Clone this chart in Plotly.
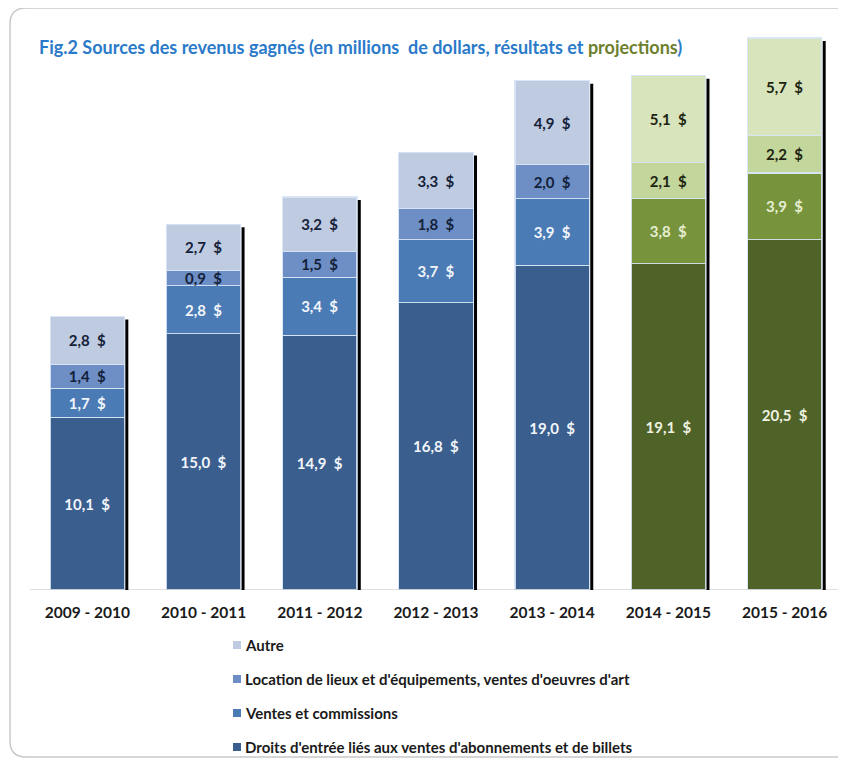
import plotly.graph_objects as go

# ---------------- data ----------------
categories = ["2009 - 2010", "2010 - 2011", "2011 - 2012", "2012 - 2013",
              "2013 - 2014", "2014 - 2015", "2015 - 2016"]
is_projection = [False, False, False, False, False, True, True]

droits = [10.1, 15.0, 14.9, 16.8, 19.0, 19.1, 20.5]
ventes = [1.7, 2.8, 3.4, 3.7, 3.9, 3.8, 3.9]
location = [1.4, 0.9, 1.5, 1.8, 2.0, 2.1, 2.2]
autre = [2.8, 2.7, 3.2, 3.3, 4.9, 5.1, 5.7]

series_names = [
    "Droits d'entrée liés aux ventes d'abonnements et de billets",
    "Ventes et commissions",
    "Location de lieux et d'équipements, ventes d'oeuvres d'art",
    "Autre",
]
series_values = [droits, ventes, location, autre]
legend_order = ["Autre",
                "Location de lieux et d'équipements, ventes d'oeuvres d'art",
                "Ventes et commissions",
                "Droits d'entrée liés aux ventes d'abonnements et de billets"]

blue_colors = ["#3a5f8f", "#4a7bb5", "#6d8fc5", "#bfcbe0"]
green_colors = ["#4f6228", "#77933c", "#c3d69b", "#d8e4bc"]
text_blue = ["#f2f5fa", "#f2f5fa", "#14213a", "#14213a"]
text_green = ["#eef3e0", "#e6eed2", "#1c2410", "#1c2410"]

FONT = "Lato, 'Open Sans', sans-serif"

# ---------------- geometry (figure pixel coords; page adds 8px body margin) ----------------
W, H = 830, 750
ML, MR, MT, MB = 27, 1, 18, 168
YMAX = 33.0
plot_w = W - ML - MR
plot_h = H - MT - MB


def pxx(px):
    return (px - ML) / plot_w


def pxy(py):
    return (H - MB - py) / plot_h


fig = go.Figure()

for k, (name, vals) in enumerate(zip(series_names, series_values)):
    colors = [green_colors[k] if p else blue_colors[k] for p in is_projection]
    tcolors = [text_green[k] if p else text_blue[k] for p in is_projection]
    labels = [f"{v:.1f}".replace(".", ",") + "\u00a0 $" for v in vals]
    fig.add_trace(go.Bar(
        x=categories, y=vals, name=name,
        marker=dict(color=colors, line=dict(color="rgba(215,228,245,0.9)", width=1.2)),
        text=labels, textposition="inside", insidetextanchor="middle",
        textangle=0,
        textfont=dict(family=FONT, size=15, color=tcolors, weight="bold"),
        showlegend=False,
        hoverinfo="skip",
    ))

totals = [sum(v) for v in zip(*series_values)]

shapes = []
# baseline (category axis line), extended across the chart
shapes.append(dict(type="line", xref="paper", yref="y",
                   x0=pxx(22), x1=pxx(830), y0=0, y1=0,
                   line=dict(color="#bfbfbf", width=1.2), layer="above"))
# black shadow lines on the right of each bar
for i, t in enumerate(totals):
    shapes.append(dict(type="line", xref="x", yref="y",
                       x0=i + 0.34, x1=i + 0.34, y0=0, y1=t - 0.18,
                       line=dict(color="black", width=3), layer="above"))

# rounded outer frame
L, T, R, B, r = 2, 0, 880, 749, 16
def P(px, py):
    return f"{pxx(px):.5f},{pxy(py):.5f}"
path = (f"M {P(R, T)} L {P(L + r, T)} Q {P(L, T)} {P(L, T + r)} "
        f"L {P(L, B - r)} Q {P(L, B)} {P(L + r, B)} L {P(R, B)}")
shapes.append(dict(type="path", xref="paper", yref="paper", path=path,
                   line=dict(color="#c9c9c9", width=1.5), layer="below"))

title_blue = "#2a7ac9"
title_green = "#6e7f2e"
annotations = [dict(
    xref="paper", yref="paper",
    x=pxx(29), y=pxy(39), xanchor="left", yanchor="middle",
    showarrow=False,
    text=(f"<span style='color:{title_blue}'>Fig.2 Sources des revenus gagnés (en millions  de dollars, résultats et </span>"
          f"<span style='color:{title_green}'>projections</span>"
          f"<span style='color:{title_blue}'>)</span>"),
    font=dict(family=FONT, size=18, weight="bold"),
)]

# manual legend (Autre on top)
legend_colors = {series_names[k]: blue_colors[k] for k in range(4)}
leg_x_marker = 229
leg_y0 = 637
leg_dy = 34
for j, name in enumerate(legend_order):
    yc = leg_y0 + j * leg_dy
    shapes.append(dict(type="rect", xref="paper", yref="paper",
                       x0=pxx(leg_x_marker - 4), x1=pxx(leg_x_marker + 4),
                       y0=pxy(yc + 4), y1=pxy(yc - 4),
                       fillcolor=legend_colors[name], line=dict(width=0)))
    annotations.append(dict(
        xref="paper", yref="paper", x=pxx(leg_x_marker + 6), y=pxy(yc),
        xanchor="left", yanchor="middle", showarrow=False, text=name,
        font=dict(family=FONT, size=15, color="#1a1a1a", weight="bold"),
    ))

fig.update_layout(
    width=W, height=H,
    margin=dict(l=ML, r=MR, t=MT, b=MB),
    paper_bgcolor="white", plot_bgcolor="white",
    barmode="stack", bargap=0.36,
    shapes=shapes, annotations=annotations,
    uniformtext=dict(minsize=15, mode="show"),
    xaxis=dict(
        range=[-0.45, 6.45],
        showline=False,
        showgrid=False, ticks="outside", ticklen=8, tickcolor="rgba(0,0,0,0)",
        tickfont=dict(family=FONT, size=15.5, color="#1a1a1a", weight="bold"),
        fixedrange=True,
    ),
    yaxis=dict(range=[0, YMAX], visible=False, showgrid=False, fixedrange=True),
    showlegend=False,
)

fig.write_html("out.html")
